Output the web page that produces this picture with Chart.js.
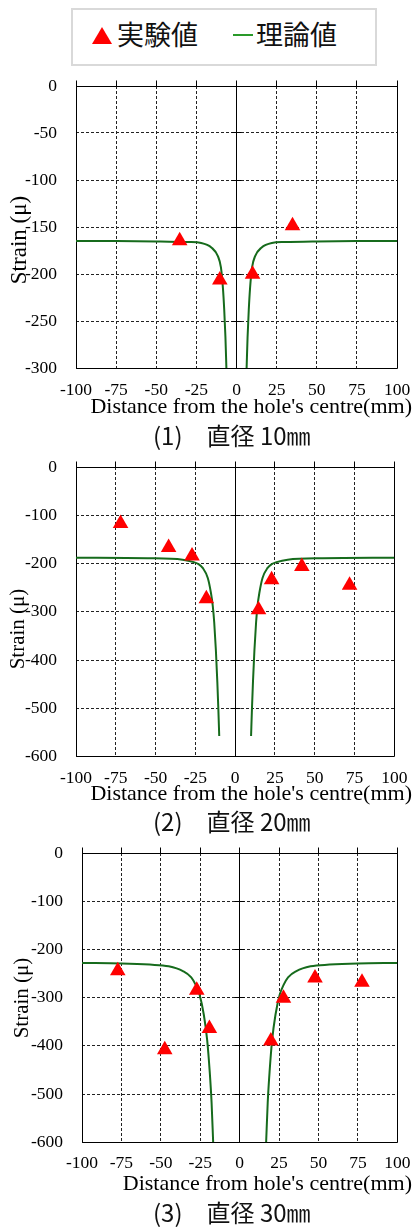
<!DOCTYPE html>
<html><head><meta charset="utf-8">
<script src="https://cdn.jsdelivr.net/npm/chart.js@4/dist/chart.umd.min.js"></script>
<style>
html,body{margin:0;padding:0;background:#fff;}
body{width:417px;height:1227px;position:relative;overflow:hidden;}
canvas{position:absolute;left:0;}
.xt{position:absolute;right:5px;font:22px/22px "Liberation Serif",serif;color:#000;white-space:nowrap;z-index:2;}
.yt{position:absolute;font-family:"Liberation Serif",serif;color:#000;white-space:nowrap;transform:translate(-50%,-50%) rotate(-90deg);z-index:2;}
.cap{position:absolute;left:153px;font:24px/24px "Noto Sans CJK JP",sans-serif;color:#111;white-space:nowrap;z-index:2;}
#legend{position:absolute;left:71px;top:8px;width:302px;height:54px;border:2px solid #d9d9d9;background:#fff;}
#legend .tx{position:absolute;top:10px;font:27px/27px "Noto Sans CJK JP",sans-serif;color:#111;white-space:nowrap;}
</style></head><body>

<div id="legend">
  <div style="position:absolute;left:19px;top:17px;width:0;height:0;border-left:10.5px solid transparent;border-right:10.5px solid transparent;border-bottom:17px solid #ff0000;"></div>
  <span class="tx" style="left:44px;">実験値</span>
  <div style="position:absolute;left:160px;top:23.5px;width:20px;height:2px;background:#2a9a2a;"></div>
  <span class="tx" style="left:183px;">理論値</span>
</div>

<canvas id="c1" width="417" height="335" style="top:70px;width:417px;height:335px;"></canvas>
<div class="yt" style="left:17.5px;top:240px;font-size:23px;line-height:23px;">Strain (μ)</div>
<div class="xt" style="top:395px;">Distance from the hole's centre(mm)</div>
<div class="cap" style="top:423px;">(1)　直径 10㎜</div>

<canvas id="c2" width="417" height="340" style="top:450px;width:417px;height:340px;"></canvas>
<div class="yt" style="left:17px;top:628.5px;font-size:21px;line-height:21px;">Strain (μ)</div>
<div class="xt" style="top:782.3px;">Distance from the hole's centre(mm)</div>
<div class="cap" style="top:809px;">(2)　直径 20㎜</div>

<canvas id="c3" width="417" height="340" style="top:835px;width:417px;height:340px;"></canvas>
<div class="yt" style="left:21px;top:997.5px;font-size:21px;line-height:21px;">Strain (μ)</div>
<div class="xt" style="top:1171.6px;">Distance from hole's centre(mm)</div>
<div class="cap" style="top:1199.6px;">(3)　直径 30㎜</div>

<script>
// ---- tick labels ----
const xTickValues = [-100, -75, -50, -25, 0, 25, 50, 75, 100];
const yTickValues1 = [0, -50, -100, -150, -200, -250, -300];
const yTickValues23 = [0, -100, -200, -300, -400, -500, -600];

// ---- (1) diameter 10mm ----
const exp1X = [-35.4, -10.4, 10.0, 34.9];
const exp1Y = [-164.5, -206.5, -200.3, -148.8];
const th1LX = [-100, -75, -50, -30, -22, -15.5, -11.6, -9.7, -8.45, -7.65, -6.9, -6.3];
const th1LY = [-165, -165, -165.3, -166, -167, -172, -181, -193, -215, -238, -267, -300];
const th1RX = [6.3, 6.9, 7.65, 8.45, 9.7, 11.6, 15.5, 22, 30, 50, 75, 100];
const th1RY = [-300, -267, -238, -215, -193, -181, -172, -167, -166, -165.3, -165, -165];

// ---- (2) diameter 20mm ----
const exp2X = [-72, -41.8, -27.1, -18.1, 14.7, 22.9, 41.9, 71.9];
const exp2Y = [-117, -166.7, -184.5, -273, -295.8, -233.5, -206, -244.7];
const th2LX = [-100, -55, -33, -26, -23, -20.4, -17.2, -15.2, -14.05, -13.15, -12.1, -11.2, -10.55, -10];
const th2LY = [-188, -189, -192, -197, -201, -209, -230, -261, -288, -322, -380, -445, -502, -557];
const th2RX = [10, 10.55, 11.2, 12.1, 13.15, 14.05, 15.2, 17.2, 20.4, 23, 26, 33, 55, 100];
const th2RY = [-557, -502, -445, -380, -322, -288, -261, -230, -209, -201, -197, -192, -189, -188];

// ---- (3) diameter 30mm ----
const exp3X = [-77.3, -47.5, -27.2, -19.2, 19.8, 27.8, 47.8, 77.6];
const exp3Y = [-244, -408, -284.5, -364, -390, -301, -259.5, -268];
const th3LX = [-100, -75, -57, -45, -36, -30.7, -27.8, -25.4, -22.7, -20.6, -19, -17.8, -16.8];
const th3LY = [-228, -229, -231.5, -235, -245, -258, -274, -294, -336, -388, -453, -518, -600];
const th3RX = [16.8, 17.8, 19, 20.6, 22.7, 25.4, 27.8, 30.7, 36, 45, 57, 75, 100];
const th3RY = [-600, -518, -453, -388, -336, -294, -274, -258, -245, -235, -231.5, -229, -228];

const zip = (xs, ys) => xs.map((x, i) => ({x: x, y: ys[i]}));
const TICK_FONT = {family: "'Liberation Serif', 'Times New Roman', serif", size: 17.5};

const framePlugin = {
  id: 'frame',
  beforeDatasetsDraw(chart) {
    const {ctx, chartArea: a, scales: {x, y}} = chart;
    const r = v => Math.round(v - 0.5) + 0.5;
    ctx.save();
    ctx.setLineDash([]);
    ctx.strokeStyle = '#000';
    ctx.lineWidth = 1;
    const L = r(a.left), R = r(a.right), T = r(a.top), B = r(a.bottom);
    ctx.beginPath();
    ctx.rect(L, T, R - L, B - T);
    ctx.stroke();
    const x0 = r(x.getPixelForValue(0));
    ctx.beginPath();
    ctx.moveTo(x0, T); ctx.lineTo(x0, B);
    x.ticks.forEach(t => {
      const px = r(x.getPixelForValue(t.value));
      ctx.moveTo(px, T - 6); ctx.lineTo(px, T);
    });
    y.ticks.forEach(t => {
      const py = r(y.getPixelForValue(t.value));
      ctx.moveTo(x0 - 5, py); ctx.lineTo(x0 + 5, py);
    });
    ctx.stroke();
    ctx.restore();
  }
};

function makeChart(id, o) {
  const lineDs = (data) => ({
    type: 'line', label: '理論値', data: data,
    borderColor: '#166b1c', borderWidth: 2, pointRadius: 0,
    cubicInterpolationMode: 'monotone', fill: false, order: 2
  });
  return new Chart(document.getElementById(id), {
    type: 'scatter',
    data: {
      datasets: [
        lineDs(zip(o.thLX, o.thLY)),
        lineDs(zip(o.thRX, o.thRY)),
        {
          label: '実験値', data: zip(o.exX, o.exY),
          pointStyle: 'triangle', pointRadius: 9,
          backgroundColor: '#ff0000', borderColor: '#ff0000', borderWidth: 0, order: 1
        }
      ]
    },
    options: {
      responsive: false, animation: false, events: [],
      layout: {padding: {top: o.pt, right: o.pr, bottom: 0, left: 0}},
      plugins: {legend: {display: false}, tooltip: {enabled: false}},
      scales: {
        x: {
          type: 'linear', min: -100, max: 100,
          afterBuildTicks: s => { s.ticks = xTickValues.map(v => ({value: v})); },
          afterFit: s => { s.height = o.xh; },
          grid: {color: '#222', lineWidth: 1, drawTicks: true, tickLength: o.xpad, tickColor: 'rgba(0,0,0,0)'},
          border: {display: false, dash: [3, 2]},
          ticks: {padding: 0, font: TICK_FONT, color: '#000', maxRotation: 0}
        },
        y: {
          type: 'linear', min: o.ymin, max: 0,
          afterBuildTicks: s => { s.ticks = o.yTicks.map(v => ({value: v})); },
          afterFit: s => { s.width = o.yw; },
          grid: {color: '#222', lineWidth: 1, drawTicks: true, tickLength: 19, tickColor: 'rgba(0,0,0,0)'},
          border: {display: false, dash: [3, 2]},
          ticks: {padding: 0, font: TICK_FONT, color: '#000'}
        }
      }
    },
    plugins: [framePlugin]
  });
}

makeChart('c1', {exX: exp1X, exY: exp1Y, thLX: th1LX, thLY: th1LY, thRX: th1RX, thRY: th1RY,
  ymin: -300, yTicks: yTickValues1, pt: 16, pr: 20, xh: 37, yw: 76, xpad: 12});
makeChart('c2', {exX: exp2X, exY: exp2Y, thLX: th2LX, thLY: th2LY, thRX: th2RX, thRY: th2RY,
  ymin: -600, yTicks: yTickValues23, pt: 17, pr: 22.7, xh: 33.3, yw: 76, xpad: 11});
makeChart('c3', {exX: exp3X, exY: exp3Y, thLX: th3LX, thLY: th3LY, thRX: th3RX, thRY: th3RY,
  ymin: -600, yTicks: yTickValues23, pt: 18, pr: 19.7, xh: 32.7, yw: 82, xpad: 10.5});
</script>
</body></html>
